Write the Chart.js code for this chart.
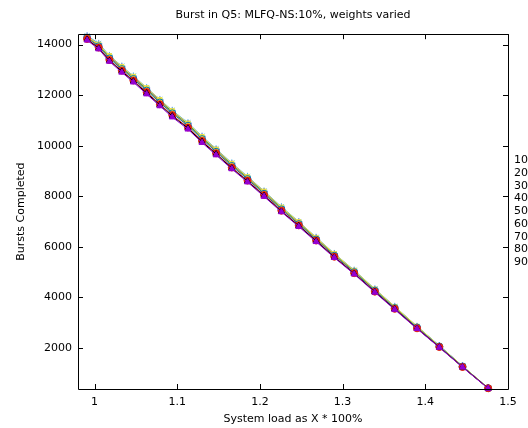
<!DOCTYPE html>
<html>
<head>
<meta charset="utf-8">
<script src="https://cdn.jsdelivr.net/npm/chart.js@4/dist/chart.umd.min.js"></script>
<style>
  html, body { margin: 0; padding: 0; background: #fff; }
  #wrap { width: 528px; height: 428px; position: relative; }
</style>
</head>
<body>
<div id="wrap"><canvas id="chart"></canvas></div>
<script>
// system load (x) values
const loads = [0.991, 1.005, 1.018, 1.033, 1.047, 1.063, 1.079, 1.094, 1.113, 1.130,
               1.147, 1.166, 1.185, 1.205, 1.226, 1.247, 1.268, 1.290, 1.314, 1.339,
               1.363, 1.390, 1.417, 1.445, 1.476];

// bursts completed per weight
const w10 = [14330, 14020, 13540, 13120, 12720, 12270, 11800, 11370, 10880, 10350, 9850, 9290, 8760, 8190, 7560, 6980, 6360, 5720, 5060, 4320, 3630, 2850, 2090, 1290, 420];
const w20 = [14300, 13990, 13500, 13090, 12690, 12240, 11770, 11340, 10850, 10320, 9820, 9260, 8730, 8160, 7540, 6960, 6340, 5700, 5040, 4310, 3620, 2840, 2080, 1280, 415];
const w30 = [14350, 14050, 13570, 13150, 12760, 12300, 11830, 11400, 10910, 10380, 9880, 9320, 8790, 8210, 7590, 7000, 6380, 5740, 5080, 4340, 3650, 2860, 2100, 1290, 420];
const w40 = [14280, 13960, 13480, 13060, 12670, 12210, 11740, 11310, 10820, 10290, 9790, 9230, 8710, 8130, 7510, 6930, 6320, 5680, 5020, 4290, 3600, 2830, 2070, 1280, 415];
const w50 = [14320, 14010, 13560, 13130, 12740, 12290, 11820, 11380, 10890, 10360, 9860, 9300, 8770, 8200, 7570, 6990, 6370, 5730, 5070, 4330, 3640, 2860, 2090, 1290, 420];
const w60 = [14260, 13930, 13450, 13030, 12640, 12180, 11710, 11280, 10790, 10260, 9760, 9200, 8680, 8100, 7480, 6900, 6290, 5650, 5000, 4270, 3580, 2810, 2060, 1270, 412];
const w70 = [14220, 13880, 13390, 12970, 12580, 12120, 11640, 11210, 10720, 10190, 9700, 9140, 8620, 8050, 7430, 6850, 6250, 5610, 4960, 4230, 3550, 2780, 2040, 1250, 410];
const w80 = [14200, 13850, 13360, 12940, 12550, 12080, 11610, 11170, 10690, 10160, 9670, 9110, 8590, 8020, 7400, 6830, 6230, 5590, 4940, 4220, 3540, 2770, 2030, 1245, 405];
const w90 = [14170, 13820, 13330, 12900, 12510, 12040, 11570, 11130, 10650, 10120, 9630, 9080, 8560, 7990, 7380, 6800, 6200, 5570, 4920, 4200, 3520, 2760, 2020, 1240, 400];

const seriesNames = ['10', '20', '30', '40', '50', '60', '70', '80', '90'];
const seriesData = [w10, w20, w30, w40, w50, w60, w70, w80, w90];

const xTicks = [1, 1.1, 1.2, 1.3, 1.4, 1.5];
const yTicks = [2000, 4000, 6000, 8000, 10000, 12000, 14000];

// gnuplot-like line colours and point types
const colors = ['#9400d3', '#009e73', '#56b4e9', '#e69f00', '#f0e442', '#0072b2', '#e51e10', '#000000', '#9400d3'];
const pStyles = ['cross', 'crossRot', 'star', 'rect', 'rect', 'circle', 'circle', 'triangle', 'triangle'];
const pFilled = [false, false, false, false, true, false, true, false, true];

const FONT = { family: 'DejaVu Sans', size: 11 };

// frame + inward ticks on all four sides, legend text on the right
const framePlugin = {
    id: 'frame',
    afterDatasetsDraw(chart) {
        const { ctx, chartArea: a, scales } = chart;
        const tl = 5;
        ctx.save();
        ctx.strokeStyle = '#000';
        ctx.lineWidth = 1;
        ctx.beginPath();
        ctx.rect(Math.round(a.left) + 0.5, Math.round(a.top) + 0.5,
                 Math.round(a.right - a.left), Math.round(a.bottom - a.top));
        xTicks.forEach(v => {
            const x = Math.round(scales.x.getPixelForValue(v)) + 0.5;
            ctx.moveTo(x, a.bottom); ctx.lineTo(x, a.bottom - tl);
            ctx.moveTo(x, a.top); ctx.lineTo(x, a.top + tl);
        });
        yTicks.forEach(v => {
            const y = Math.round(scales.y.getPixelForValue(v)) + 0.5;
            ctx.moveTo(a.left, y); ctx.lineTo(a.left + tl, y);
            ctx.moveTo(a.right, y); ctx.lineTo(a.right - tl, y);
        });
        ctx.stroke();

        // key (samples fall outside the canvas, only labels show)
        ctx.fillStyle = '#000';
        ctx.font = FONT.size + 'px ' + FONT.family;
        ctx.textAlign = 'left';
        ctx.textBaseline = 'middle';
        seriesNames.forEach((n, i) => {
            ctx.fillText(n, 514, 160.5 + i * 12.7);
        });
        ctx.restore();
    }
};

const datasets = seriesData.map((vals, i) => ({
    label: seriesNames[i],
    data: loads.map((x, j) => ({ x: x, y: vals[j] })),
    borderColor: colors[i],
    backgroundColor: pFilled[i] ? colors[i] : 'rgba(0,0,0,0)',
    pointBorderColor: colors[i],
    pointStyle: pStyles[i],
    pointRadius: pStyles[i] === 'rect' ? 3 : 3.5,
    pointBorderWidth: 1,
    borderWidth: 1,
    tension: 0,
    order: 9 - i,
    clip: false
}));

new Chart(document.getElementById('chart'), {
    type: 'line',
    data: { datasets: datasets },
    plugins: [framePlugin],
    options: {
        responsive: true,
        maintainAspectRatio: false,
        animation: false,
        layout: { padding: { top: 1, right: 20, bottom: 0, left: 0 } },
        plugins: {
            legend: { display: false },
            tooltip: { enabled: false },
            title: {
                display: true,
                fullSize: false,
                text: 'Burst in Q5: MLFQ-NS:10%, weights varied',
                color: '#000',
                font: { family: FONT.family, size: 11, weight: 'normal' },
                padding: { top: 8, bottom: 12 }
            }
        },
        scales: {
            x: {
                type: 'linear',
                min: 0.98,
                max: 1.5,
                afterBuildTicks: s => { s.ticks = xTicks.map(v => ({ value: v })); },
                afterFit: s => { s.height = 39; },
                grid: { display: false, drawTicks: false },
                border: { display: false },
                ticks: { color: '#000', font: FONT, padding: 7, maxRotation: 0,
                         callback: v => String(v) },
                title: { display: true, text: 'System load as X * 100%', color: '#000',
                         font: FONT, padding: { top: 2, bottom: 2 } }
            },
            y: {
                type: 'linear',
                min: 380,
                max: 14410,
                afterBuildTicks: s => { s.ticks = yTicks.map(v => ({ value: v })); },
                afterFit: s => { s.width = 78; },
                grid: { display: false, drawTicks: false },
                border: { display: false },
                ticks: { color: '#000', font: FONT, padding: 6, callback: v => String(v) },
                title: { display: true, text: 'Bursts Completed', color: '#000',
                         font: FONT, padding: { top: 15, bottom: 15 } }
            }
        }
    }
});
</script>
</body>
</html>
